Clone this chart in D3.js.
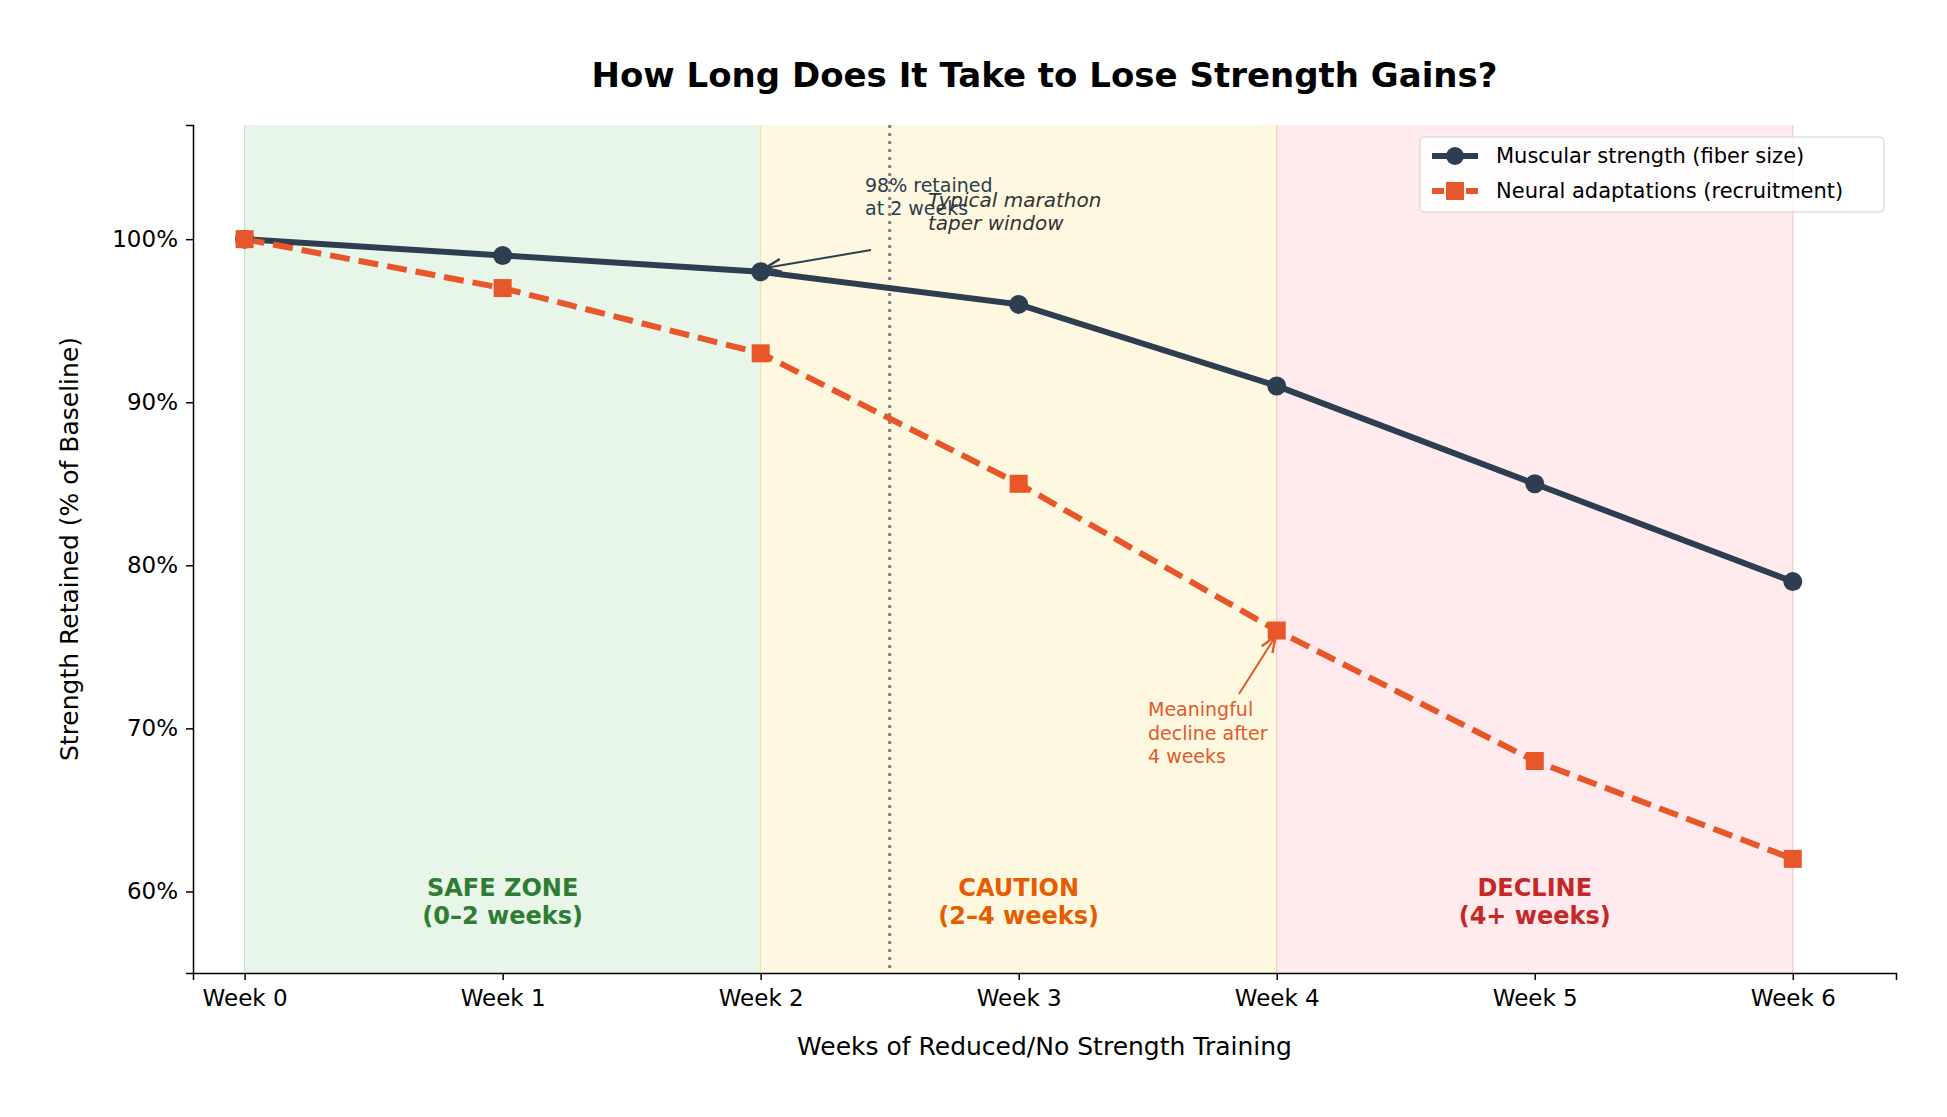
<!DOCTYPE html>
<html><head><meta charset="utf-8">
<script src="https://cdn.jsdelivr.net/npm/d3@7"></script>
<style>body{margin:0;background:#fff}text{font-family:"DejaVu Sans",sans-serif}</style>
</head><body><svg id="c"></svg>
<script>
const weeks = [0, 1, 2, 3, 4, 5, 6];
const weekLabels = ["Week 0", "Week 1", "Week 2", "Week 3", "Week 4", "Week 5", "Week 6"];
const muscular = [100, 99, 98, 96, 91, 85, 79];
const neural = [100, 97, 93, 85, 76, 68, 62];
const yTicks = [60, 70, 80, 90, 100];
const zones = [
  {from: 0, to: 2, fill: "#e8f5e9", edge: "#c8e6c9", label: ["SAFE ZONE", "(0–2 weeks)"], color: "#2e7d32"},
  {from: 2, to: 4, fill: "#fff8e1", edge: "#ffe0a0", label: ["CAUTION", "(2–4 weeks)"], color: "#e65c00"},
  {from: 4, to: 6, fill: "#ffebee", edge: "#f8c8c8", label: ["DECLINE", "(4+ weeks)"], color: "#c62828"}
];

const W = 1947, H = 1117;
const m = {l: 193, r: 1896, t: 125, b: 973};
const svg = d3.select("#c").attr("width", W).attr("height", H);

const x = d3.scaleLinear().domain([-0.2, 6.4]).range([m.l, m.r]);
const y = d3.scaleLinear().domain([55, 107]).range([m.b, m.t]);

svg.append("defs").selectAll("marker")
  .data([["a1", "#2d3e50"], ["a2", "#e05a2b"]]).enter().append("marker")
  .attr("id", d => d[0]).attr("viewBox", "0 0 10 10").attr("refX", 9).attr("refY", 5)
  .attr("markerWidth", 8).attr("markerHeight", 8).attr("orient", "auto")
  .append("path").attr("d", "M0,1 L10,5 L0,9").attr("fill", "none").attr("stroke", d => d[1]).attr("stroke-width", 1.5);

zones.forEach(z => {
  svg.append("rect").attr("x", x(z.from)).attr("y", m.t).attr("width", x(z.to) - x(z.from))
    .attr("height", m.b - m.t).attr("fill", z.fill);
  [z.from, z.to].forEach(v => svg.append("line").attr("x1", x(v)).attr("x2", x(v))
    .attr("y1", m.t).attr("y2", m.b).attr("stroke", z.edge).attr("stroke-width", 1.2));
  const t = svg.append("text").attr("x", x((z.from + z.to) / 2)).attr("text-anchor", "middle")
    .attr("fill", z.color).attr("font-weight", "bold").attr("font-size", 24);
  t.append("tspan").attr("x", x((z.from + z.to) / 2)).attr("y", y(60.2) + 8).text(z.label[0]);
  t.append("tspan").attr("x", x((z.from + z.to) / 2)).attr("y", y(58.5) + 8).text(z.label[1]);
});

svg.append("line").attr("x1", x(2.5)).attr("x2", x(2.5)).attr("y1", m.t).attr("y2", m.b)
  .attr("stroke", "#808080").attr("stroke-width", 3).attr("stroke-dasharray", "3,5");

// axes
const xa = svg.append("g").attr("transform", `translate(0,${m.b})`)
  .call(d3.axisBottom(x).tickValues(weeks).tickFormat(i => weekLabels[i]).tickSizeOuter(0).tickSize(7).tickPadding(10));
const ya = svg.append("g").attr("transform", `translate(${m.l},0)`)
  .call(d3.axisLeft(y).tickValues(yTicks).tickFormat(d => d + "%").tickSizeOuter(0).tickSize(7).tickPadding(8));
[xa, ya].forEach(a => {
  a.selectAll("text").attr("font-size", 23).attr("fill", "#000").style("font-family", "DejaVu Sans");
  a.selectAll("line,path").attr("stroke", "#000").attr("stroke-width", 1.5);
});

// lines
const line = d3.line().x((d, i) => x(weeks[i])).y(d => y(d));
svg.append("path").datum(muscular).attr("d", line).attr("fill", "none")
  .attr("stroke", "#2d3e50").attr("stroke-width", 6);
svg.append("path").datum(neural).attr("d", line).attr("fill", "none")
  .attr("stroke", "#e8572a").attr("stroke-width", 6).attr("stroke-dasharray", "20,9");
svg.selectAll(".mc").data(muscular).enter().append("circle")
  .attr("cx", (d, i) => x(weeks[i])).attr("cy", d => y(d)).attr("r", 9.5).attr("fill", "#2d3e50");
svg.selectAll(".ms").data(neural).enter().append("rect")
  .attr("x", (d, i) => x(weeks[i]) - 9).attr("y", d => y(d) - 9).attr("width", 18).attr("height", 18).attr("fill", "#e8572a");

// annotations
const t1 = svg.append("text").attr("font-size", 19).attr("fill", "#2d3e50");
t1.append("tspan").attr("x", 865).attr("y", 192).text("98% retained");
t1.append("tspan").attr("x", 865).attr("y", 215).text("at 2 weeks");
svg.append("line").attr("x1", 871).attr("y1", 250).attr("x2", x(2) + 6).attr("y2", y(98) - 4)
  .attr("stroke", "#2d3e50").attr("stroke-width", 2).attr("marker-end", "url(#a1)");
const t2 = svg.append("text").attr("font-size", 20).attr("fill", "#333").attr("font-style", "italic");
t2.append("tspan").attr("x", 928).attr("y", 207).text("Typical marathon");
t2.append("tspan").attr("x", 928).attr("y", 230).text("taper window");
const t3 = svg.append("text").attr("font-size", 19).attr("fill", "#e05a2b");
["Meaningful", "decline after", "4 weeks"].forEach((s, i) =>
  t3.append("tspan").attr("x", 1148).attr("y", 716 + i * 23.5).text(s));
svg.append("line").attr("x1", 1239).attr("y1", 694).attr("x2", x(4) - 2).attr("y2", y(76) + 7)
  .attr("stroke", "#e05a2b").attr("stroke-width", 2).attr("marker-end", "url(#a2)");

// titles
svg.append("text").attr("x", (m.l + m.r) / 2).attr("y", 87).attr("text-anchor", "middle")
  .attr("font-size", 34).attr("font-weight", "bold").text("How Long Does It Take to Lose Strength Gains?");
svg.append("text").attr("x", (m.l + m.r) / 2).attr("y", 1055).attr("text-anchor", "middle")
  .attr("font-size", 25).text("Weeks of Reduced/No Strength Training");
svg.append("text").attr("transform", `translate(78,${(m.t + m.b) / 2}) rotate(-90)`).attr("text-anchor", "middle")
  .attr("font-size", 25).text("Strength Retained (% of Baseline)");

// legend
const lg = svg.append("g").attr("transform", "translate(1420,137)");
lg.append("rect").attr("width", 464).attr("height", 75).attr("rx", 4).attr("fill", "#fff")
  .attr("fill-opacity", 0.85).attr("stroke", "#d0d0d0");
lg.append("line").attr("x1", 12).attr("x2", 58).attr("y1", 19).attr("y2", 19).attr("stroke", "#2d3e50").attr("stroke-width", 6);
lg.append("circle").attr("cx", 35).attr("cy", 19).attr("r", 9).attr("fill", "#2d3e50");
lg.append("line").attr("x1", 12).attr("x2", 58).attr("y1", 54).attr("y2", 54).attr("stroke", "#e8572a").attr("stroke-width", 6).attr("stroke-dasharray", "12,5");
lg.append("rect").attr("x", 26).attr("y", 45).attr("width", 18).attr("height", 18).attr("fill", "#e8572a");
lg.append("text").attr("x", 76).attr("y", 26).attr("font-size", 21).text("Muscular strength (fiber size)");
lg.append("text").attr("x", 76).attr("y", 61).attr("font-size", 21).text("Neural adaptations (recruitment)");
</script></body></html>
